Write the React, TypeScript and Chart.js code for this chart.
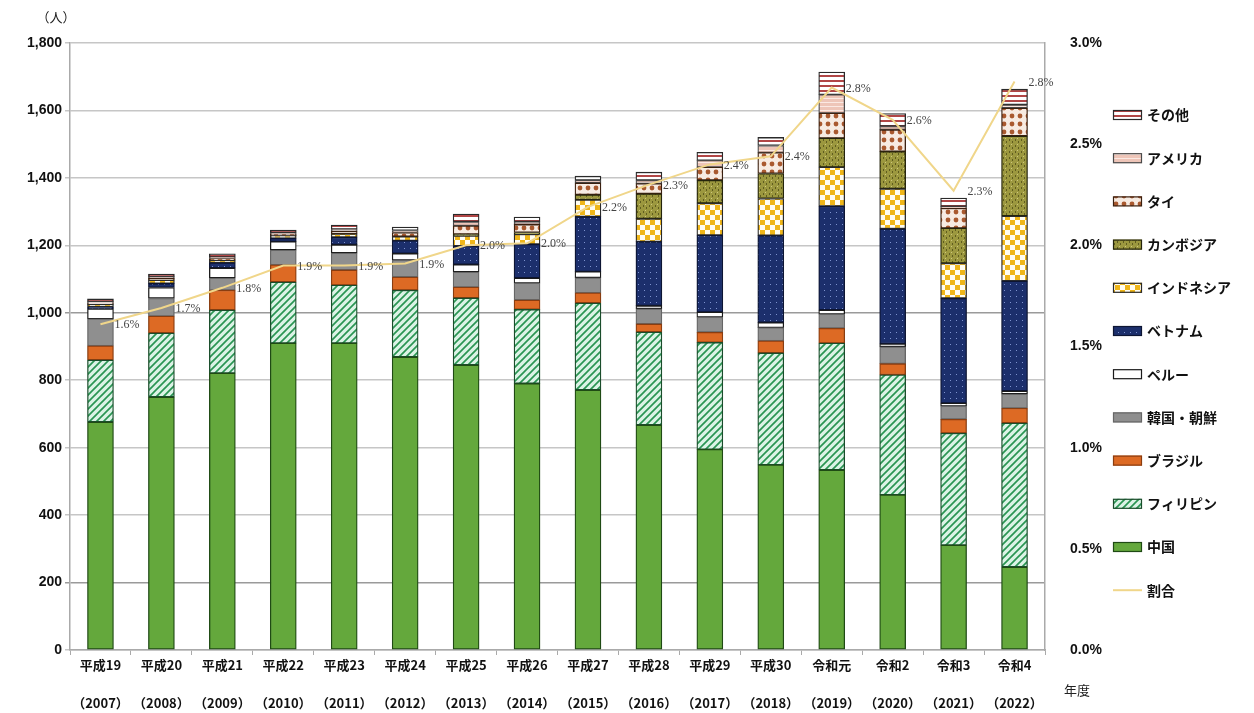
import { useEffect, useRef } from 'react';
import { Chart, registerables } from 'chart.js';

Chart.register(...registerables);

const eraLabels = ['平成19', '平成20', '平成21', '平成22', '平成23', '平成24', '平成25', '平成26', '平成27', '平成28', '平成29', '平成30', '令和元', '令和2', '令和3', '令和4'];
const yearLabels = ['（2007）', '（2008）', '（2009）', '（2010）', '（2011）', '（2012）', '（2013）', '（2014）', '（2015）', '（2016）', '（2017）', '（2018）', '（2019）', '（2020）', '（2021）', '（2022）'];

const china = [676, 750, 821, 910, 910, 869, 845, 790, 771, 667, 595, 549, 534, 460, 311, 246];
const philippines = [184, 190, 187, 181, 172, 198, 199, 220, 258, 276, 317, 332, 376, 356, 332, 427];
const brazil = [42, 50, 59, 51, 45, 39, 32, 28, 30, 24, 30, 36, 44, 33, 41, 44];
const korea = [80, 53, 36, 44, 50, 50, 45, 50, 45, 45, 45, 39, 42, 50, 39, 42];
const peru = [30, 32, 30, 25, 25, 20, 22, 15, 18, 9, 15, 15, 12, 9, 9, 9];
const vietnam = [5, 12, 15, 10, 22, 38, 55, 100, 163, 190, 228, 258, 308, 341, 311, 326];
const indonesia = [8, 10, 8, 8, 10, 12, 30, 30, 50, 68, 95, 110, 116, 119, 104, 193];
const cambodia = [0, 0, 0, 0, 0, 0, 5, 5, 15, 74, 68, 74, 86, 110, 104, 237];
const thailand = [4, 5, 5, 4, 8, 12, 25, 24, 35, 30, 39, 62, 74, 65, 59, 83];
const america = [4, 5, 4, 4, 6, 6, 12, 8, 8, 10, 20, 21, 55, 10, 5, 10];
const others = [8, 8, 10, 8, 12, 10, 23, 14, 12, 24, 24, 24, 67, 38, 25, 46];
const ratio = [1.61, 1.69, 1.79, 1.9, 1.9, 1.91, 2.0, 2.01, 2.19, 2.3, 2.4, 2.44, 2.78, 2.62, 2.27, 2.81];

const leftMax = 1800;
const leftStep = 200;
const rightMax = 3;
const rightStep = 0.5;

function pattern(w: number, h: number, draw: (g: CanvasRenderingContext2D) => void): CanvasPattern | string {
  const c = document.createElement('canvas');
  c.width = w;
  c.height = h;
  const g = c.getContext('2d');
  if (!g) return '#ccc';
  draw(g);
  return g.createPattern(c, 'repeat') || '#ccc';
}

export default function App() {
  const ref = useRef<HTMLCanvasElement | null>(null);

  useEffect(() => {
    if (!ref.current) return;

    const philFill = pattern(7, 7, (g) => {
      g.fillStyle = '#dcf3e6';
      g.fillRect(0, 0, 7, 7);
      g.strokeStyle = '#2a9553';
      g.lineWidth = 1.7;
      g.beginPath();
      g.moveTo(0, 7); g.lineTo(7, 0);
      g.moveTo(-2, 2); g.lineTo(2, -2);
      g.moveTo(5, 9); g.lineTo(9, 5);
      g.stroke();
    });
    const vietFill = pattern(6, 6, (g) => {
      g.fillStyle = '#1c2f6c';
      g.fillRect(0, 0, 6, 6);
      g.fillStyle = '#7f93cf';
      g.fillRect(2, 2, 1, 1);
    });
    const indoFill = pattern(10, 10, (g) => {
      g.fillStyle = '#fffdf2';
      g.fillRect(0, 0, 10, 10);
      g.fillStyle = '#efb619';
      g.fillRect(0, 0, 5, 5);
      g.fillRect(5, 5, 5, 5);
    });
    const cambFill = pattern(6, 6, (g) => {
      g.fillStyle = '#9c983f';
      g.fillRect(0, 0, 6, 6);
      g.fillStyle = '#5f5c1f';
      g.fillRect(1, 1, 1, 2);
      g.fillRect(4, 3, 1, 2);
      g.fillStyle = '#cdc77e';
      g.fillRect(3, 0, 1, 1);
    });
    const thaiFill = pattern(8, 8, (g) => {
      g.fillStyle = '#f7ebe2';
      g.fillRect(0, 0, 8, 8);
      g.fillStyle = '#a9592f';
      g.beginPath();
      g.arc(4, 4, 2.4, 0, Math.PI * 2);
      g.fill();
    });
    const amerFill = pattern(4, 4, (g) => {
      g.fillStyle = '#eec5b8';
      g.fillRect(0, 0, 4, 4);
      g.fillStyle = '#fbe9e3';
      g.fillRect(0, 2, 4, 1);
    });
    const otherFill = pattern(4, 5, (g) => {
      g.fillStyle = '#ffffff';
      g.fillRect(0, 0, 4, 5);
      g.fillStyle = '#b14646';
      g.fillRect(0, 0, 4, 2);
    });

    const series = [
      { label: '中国', data: china, fill: '#64a83c', border: '#1f4a14' },
      { label: 'フィリピン', data: philippines, fill: philFill, border: '#1a4d2b' },
      { label: 'ブラジル', data: brazil, fill: '#dd6a24', border: '#8a3d10' },
      { label: '韓国・朝鮮', data: korea, fill: '#8f8f8f', border: '#666666' },
      { label: 'ペルー', data: peru, fill: '#ffffff', border: '#1a1a1a' },
      { label: 'ベトナム', data: vietnam, fill: vietFill, border: '#0d1533' },
      { label: 'インドネシア', data: indonesia, fill: indoFill, border: '#2a2a2a' },
      { label: 'カンボジア', data: cambodia, fill: cambFill, border: '#24240c' },
      { label: 'タイ', data: thailand, fill: thaiFill, border: '#3a2010' },
      { label: 'アメリカ', data: america, fill: amerFill, border: '#4a4a4a' },
      { label: 'その他', data: others, fill: otherFill, border: '#2a2a2a' },
    ];
    const lineColor = '#f0d68a';

    const overlay = {
      id: 'overlay',
      afterDatasetsDraw(chart: any) {
        const ctx = chart.ctx as CanvasRenderingContext2D;
        const meta = chart.getDatasetMeta(0);
        ctx.save();
        ctx.font = '12px "Liberation Serif", serif';
        ctx.fillStyle = '#444';
        ctx.textBaseline = 'middle';
        ctx.textAlign = 'left';
        meta.data.forEach((pt: any, i: number) => {
          ctx.fillText(ratio[i].toFixed(1) + '%', pt.x + 14, pt.y + 1);
        });
        ctx.restore();
      },
      afterDraw(chart: any) {
        const ctx = chart.ctx as CanvasRenderingContext2D;
        ctx.save();
        ctx.textBaseline = 'middle';
        ctx.textAlign = 'center';
        ctx.font = '13px "Noto Sans CJK JP", sans-serif';
        ctx.fillStyle = '#222';
        ctx.fillText('（人）', 56, 17);
        ctx.textAlign = 'left';
        ctx.fillText('年度', 1064, 690);
        const items = [...series].reverse();
        const x0 = 1113;
        items.forEach((s, i) => {
          const y = 115 + i * 43.2;
          ctx.fillStyle = s.fill as any;
          ctx.fillRect(x0, y - 5, 29, 10);
          ctx.strokeStyle = s.border;
          ctx.lineWidth = 1.2;
          ctx.strokeRect(x0 + 0.5, y - 4.5, 28, 9);
          ctx.fillStyle = '#111';
          ctx.font = 'bold 14px "Noto Sans CJK JP", sans-serif';
          ctx.fillText(s.label, 1147, y);
        });
        const yl = 115 + 11 * 43.2;
        ctx.strokeStyle = lineColor;
        ctx.lineWidth = 2;
        ctx.beginPath();
        ctx.moveTo(x0, yl);
        ctx.lineTo(x0 + 29, yl);
        ctx.stroke();
        ctx.fillStyle = '#111';
        ctx.font = 'bold 14px "Noto Sans CJK JP", sans-serif';
        ctx.fillText('割合', 1147, yl);
        ctx.restore();
      },
    };

    const datasets: any[] = [
      {
        type: 'line',
        label: '割合',
        data: ratio,
        yAxisID: 'y1',
        borderColor: lineColor,
        backgroundColor: lineColor,
        borderWidth: 2,
        pointRadius: 0,
        tension: 0,
        fill: false,
      },
      ...series.map((s) => ({
        type: 'bar',
        label: s.label,
        data: s.data,
        yAxisID: 'y',
        backgroundColor: s.fill,
        borderColor: s.border,
        borderWidth: 1.3,
        borderSkipped: false,
        barThickness: 26,
      })),
    ];

    const tickFont = { family: '"Liberation Sans", Arial, sans-serif', size: 14, weight: 'bold' as const };

    const chart = new Chart(ref.current, {
      type: 'bar',
      data: {
        labels: eraLabels.map((e, i) => [e, yearLabels[i]]),
        datasets,
      },
      options: {
        animation: false,
        responsive: false,
        devicePixelRatio: 1,
        layout: { padding: { top: 43, left: 0, right: 0, bottom: 0 } },
        plugins: {
          legend: { display: false },
          tooltip: { enabled: false },
        },
        scales: {
          x: {
            stacked: true,
            grid: { display: true, drawOnChartArea: false, drawTicks: true, tickLength: 5, color: '#aaaaaa' },
            border: { display: true, color: '#aaaaaa', width: 1.5 },
            ticks: {
              autoSkip: false,
              maxRotation: 0,
              minRotation: 0,
              padding: -9,
              color: '#111',
              font: { family: '"Noto Sans CJK JP", sans-serif', size: 13, weight: 'bold', lineHeight: 38 / 13 },
            },
            afterFit: (s: any) => { s.height = 63; },
          },
          y: {
            stacked: true,
            min: 0,
            max: leftMax,
            ticks: {
              stepSize: leftStep,
              padding: 3,
              color: '#111',
              font: tickFont,
              callback: (v: any) => Number(v).toLocaleString('en-US'),
            },
            grid: {
              color: (c: any) => (c.tick && (c.tick.value === 1000 || c.tick.value === 200) ? '#9a9a9a' : '#c6c6c6'),
              lineWidth: 1.5,
              tickLength: 5,
            },
            border: { display: true, color: '#aaaaaa', width: 1.5 },
            afterFit: (s: any) => { s.width = 70; },
          },
          y1: {
            position: 'right',
            min: 0,
            max: rightMax,
            ticks: {
              stepSize: rightStep,
              padding: 17,
              color: '#111',
              font: tickFont,
              callback: (v: any) => Number(v).toFixed(1) + '%',
            },
            grid: { display: false, drawOnChartArea: false },
            border: { display: true, color: '#aaaaaa', width: 1.5 },
            afterFit: (s: any) => { s.width = 209; },
          },
        },
      } as any,
      plugins: [overlay],
    });

    return () => chart.destroy();
  }, []);

  return (
    <div style={{ position: 'absolute', left: 0, top: 0, width: 1254, height: 713, background: '#fff' }}>
      <canvas ref={ref} width={1254} height={713} style={{ display: 'block' }} />
    </div>
  );
}
